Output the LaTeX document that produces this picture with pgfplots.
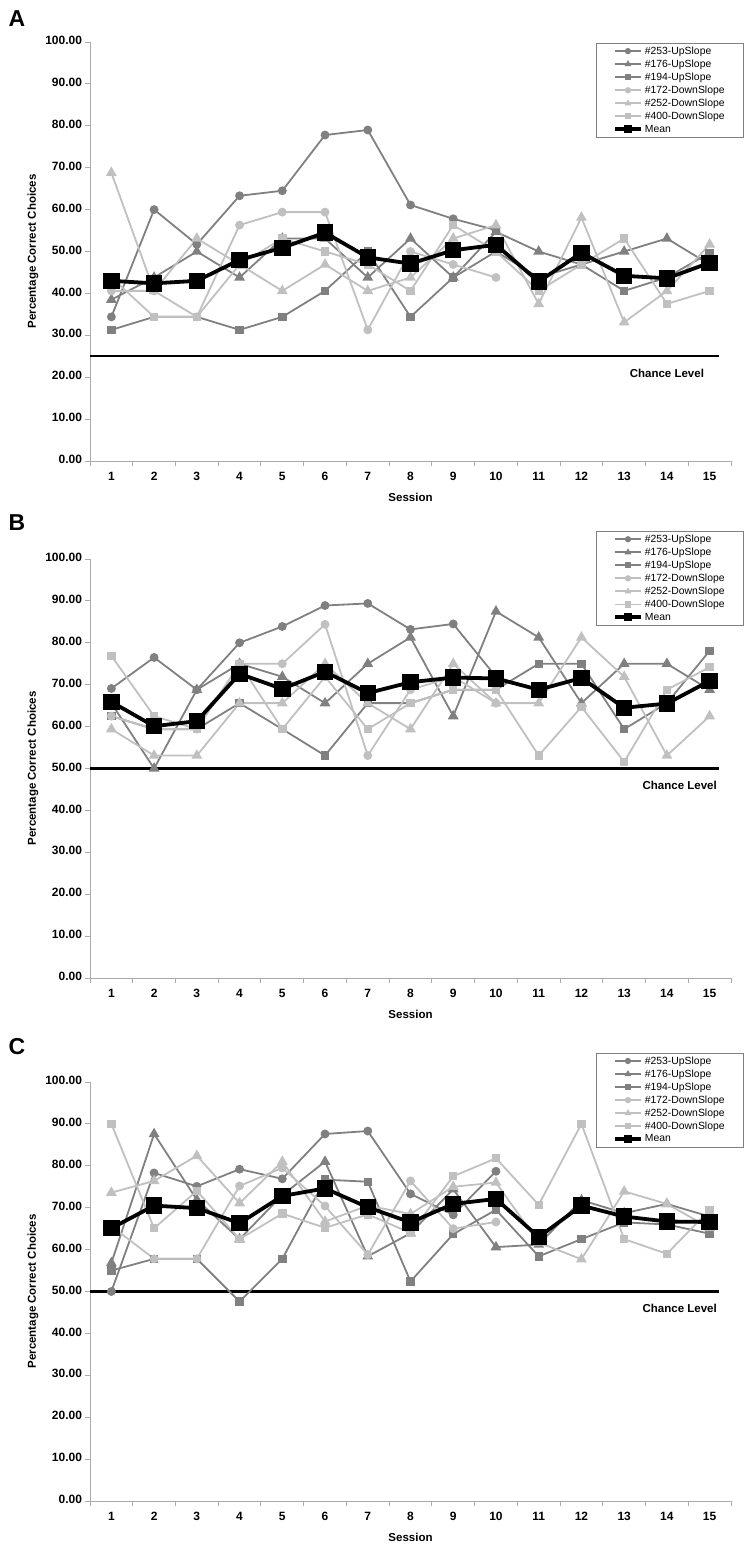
\documentclass[border=0pt]{standalone}
\usepackage{fontspec}
\setmainfont{Liberation Sans}
\usepackage{pgfplots}
\usepackage{pgfplotstable}
\pgfplotsset{compat=1.18}

\definecolor{upc}{RGB}{128,128,128}
\definecolor{downc}{RGB}{192,192,192}
\definecolor{axc}{RGB}{170,170,170}

\pgfplotstableread{
s a253 a176 a194 a172 a252 a400 mean
1 34.4 38.5 31.3 40.6 68.8 43.8 43.0
2 60.0 43.8 34.4 40.6 40.6 34.4 42.4
3 51.7 50.0 34.4 34.4 53.1 34.4 43.0
4 63.3 43.8 31.3 56.3 46.9 46.9 48.0
5 64.5 53.1 34.4 59.4 40.6 53.1 50.9
6 77.8 53.1 40.6 59.4 46.9 50.0 54.5
7 79.0 43.8 50.0 31.3 40.6 46.9 48.6
8 61.1 53.1 34.4 50.0 43.8 40.6 47.1
9 57.8 43.8 43.8 46.9 53.1 56.3 50.3
10 55.1 54.7 50.0 43.8 56.3 50.0 51.6
11 nan 50.0 43.8 nan 37.5 40.6 42.8
12 nan 46.9 46.9 nan 58.1 46.9 49.7
13 nan 50.0 40.6 nan 33.1 53.1 44.2
14 nan 53.1 43.8 nan 40.6 37.5 43.6
15 nan 46.9 49.7 nan 51.7 40.6 47.3
}\tabA

\pgfplotstableread{
s a253 a176 a194 a172 a252 a400 mean
1 69.1 65.6 62.5 62.5 59.4 76.9 65.9
2 76.5 50.0 59.4 59.4 53.1 62.5 60.1
3 68.8 68.8 59.4 59.4 53.1 59.4 61.3
4 80.0 75.0 65.6 75.0 65.6 75.0 72.6
5 83.9 71.9 59.4 75.0 65.6 59.4 69.0
6 88.9 65.6 53.1 84.4 75.0 71.9 73.1
7 89.4 75.0 65.6 53.1 65.6 59.4 68.0
8 83.2 81.3 65.6 68.8 59.4 65.6 70.6
9 84.5 62.5 68.8 71.9 75.0 68.8 71.7
10 71.9 87.5 68.8 65.6 65.6 68.8 71.5
11 nan 81.3 75.0 nan 65.6 53.1 68.8
12 nan 65.6 75.0 nan 81.3 64.7 71.6
13 nan 75.0 59.4 nan 71.9 51.6 64.5
14 nan 75.0 65.6 nan 53.1 68.8 65.5
15 nan 68.8 78.1 nan 62.5 74.2 70.9
}\tabB

\pgfplotstableread{
s a253 a176 a194 a172 a252 a400 mean
1 50.0 56.8 55.0 65.6 73.6 90.0 65.1
2 78.3 87.6 57.8 57.8 76.4 65.1 70.5
3 75.1 71.9 57.8 57.8 82.4 74.0 69.9
4 79.2 62.5 47.6 75.2 71.1 62.5 66.3
5 76.9 73.0 57.8 79.5 81.0 68.6 72.8
6 87.6 81.0 76.7 70.4 66.7 65.2 74.6
7 88.3 58.4 76.2 58.8 70.5 68.4 70.1
8 73.3 63.9 52.4 76.4 68.5 64.0 66.5
9 68.3 74.4 63.7 65.0 75.0 77.5 70.9
10 78.7 60.6 69.5 66.6 76.0 81.8 72.1
11 nan 61.2 58.4 nan 61.7 70.7 63.0
12 nan 71.8 62.5 nan 57.7 90.0 70.5
13 nan 68.7 66.5 nan 73.9 62.5 67.9
14 nan 70.9 66.0 nan 70.9 59.0 66.7
15 nan 67.9 63.8 nan 65.2 69.5 66.6
}\tabC

\pgfplotsset{
  panel/.style={
    scale only axis, width=641pt, height=419pt,
    anchor=south west,
    xmin=0.5, xmax=15.5, ymin=0, ymax=100,
    axis x line=bottom, axis y line=left,
    axis line style={draw=axc, line width=0.9pt, -},
    xtick={0.5,1.5,...,15.5},
    x tick label as interval,
    xticklabels={1,2,3,4,5,6,7,8,9,10,11,12,13,14,15},
    typeset ticklabels with strut,
    ytick={0,10,...,100},
    tick style={draw=axc, line width=0.9pt},
    tick align=outside,
    major tick length=4.5pt,
    /pgf/number format/assume math mode=true,
    yticklabel style={/pgf/number format/fixed, /pgf/number format/fixed zerofill, /pgf/number format/precision=2},
    xticklabel style={yshift=-2pt},
    ticklabel style={font=\bfseries\fontsize{12}{13}\selectfont},
    xlabel={Session},
    xlabel style={font=\bfseries\fontsize{11.5}{13}\selectfont, at={(axis description cs:0.5,-0.086)}, anchor=center},
    ylabel={Percentage Correct Choices},
    ylabel style={font=\bfseries\fontsize{11.5}{13}\selectfont, at={(axis description cs:-0.089,0.5)}, anchor=center},
    clip=false,
    legend cell align=left,
    legend image code/.code={\draw[mark repeat=2,mark phase=2,##1,mark size=2.2pt] plot coordinates {(0pt,0pt)(13pt,0pt)(26pt,0pt)};},
    legend style={anchor=north west, draw=gray, line width=0.6pt,
      font=\fontsize{10.4}{11}\selectfont, inner xsep=17pt, inner ysep=1.5pt,
      row sep=0pt},
  },
  up/.style={color=upc, line width=1.8pt, mark options={solid, fill=upc, draw=upc}},
  down/.style={color=downc, line width=1.8pt, mark options={solid, fill=downc, draw=downc}},
}

\newcommand\panelplots[2]{%
  \addplot[black, line width=2.2pt, forget plot] coordinates {(0.5,#2) (15.22,#2)};
  \addplot[up, mark=*, mark size=3.5pt] table[x=s,y=a253] {#1};
  \addplot[up, mark=triangle*, mark size=4.5pt] table[x=s,y=a176] {#1};
  \addplot[up, mark=square*, mark size=3.3pt] table[x=s,y=a194] {#1};
  \addplot[down, mark=*, mark size=3.5pt] table[x=s,y=a172] {#1};
  \addplot[down, mark=triangle*, mark size=4.5pt] table[x=s,y=a252] {#1};
  \addplot[down, mark=square*, mark size=3.3pt] table[x=s,y=a400] {#1};
  \addplot[black, line width=3.8pt, mark=square*, mark size=6.3pt, mark options={solid, fill=black}] table[x=s,y=mean] {#1};
  \legend{\#253-UpSlope, \#176-UpSlope, \#194-UpSlope, \#172-DownSlope, \#252-DownSlope, \#400-DownSlope, Mean}
}

\begin{document}
\begin{tikzpicture}
\useasboundingbox (0,0) rectangle (753pt,-1547pt);

% Panel A
\begin{axis}[panel, at={(90pt,-461pt)}, legend style={at={(0.789,0.998)}}]
  \panelplots{\tabA}{25}
  \node[font=\bfseries\fontsize{11.5}{13}\selectfont] at (axis cs:14,20.8) {Chance Level};
  \node[anchor=base west, font=\bfseries\fontsize{23}{26}\selectfont] at (axis description cs:-0.1326,1.038) {A};
\end{axis}

% Panel B
\begin{axis}[panel, at={(90pt,-978pt)}, legend style={at={(0.789,1.067)}}]
  \panelplots{\tabB}{50}
  \node[font=\bfseries\fontsize{11.5}{13}\selectfont] at (axis cs:14.3,46) {Chance Level};
  \node[anchor=base west, font=\bfseries\fontsize{23}{26}\selectfont] at (axis description cs:-0.1326,1.067) {B};
\end{axis}

% Panel C
\begin{axis}[panel, at={(90pt,-1501pt)}, legend style={at={(0.789,1.07)}}]
  \panelplots{\tabC}{50}
  \node[font=\bfseries\fontsize{11.5}{13}\selectfont] at (axis cs:14.3,45.9) {Chance Level};
  \node[anchor=base west, font=\bfseries\fontsize{23}{26}\selectfont] at (axis description cs:-0.1326,1.065) {C};
\end{axis}
\end{tikzpicture}
\end{document}
